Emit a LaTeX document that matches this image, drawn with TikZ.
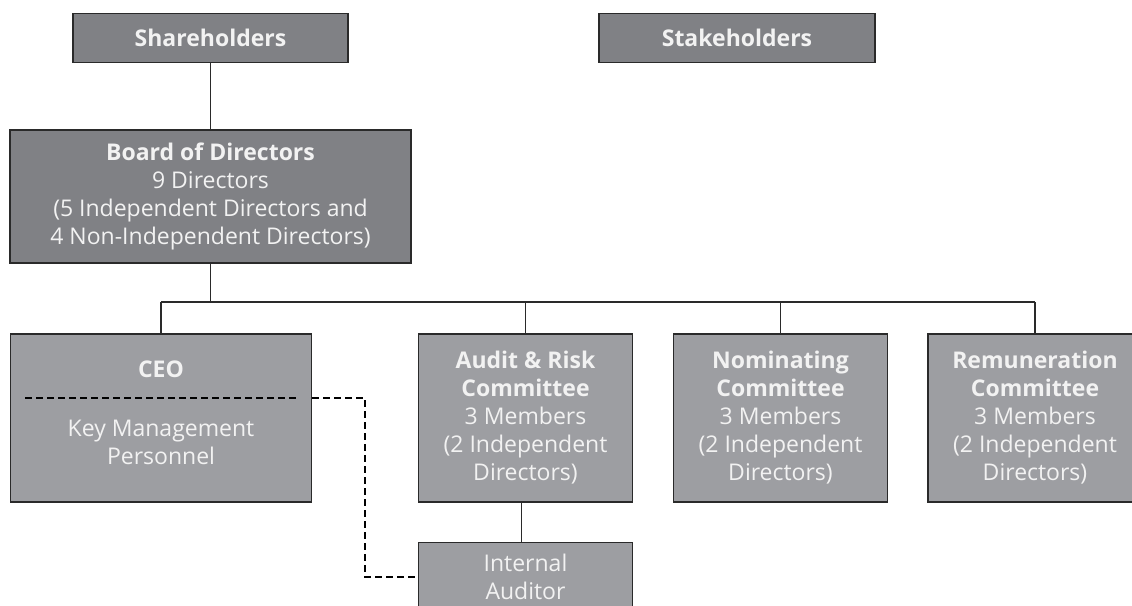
\documentclass[tikz,border=0pt]{standalone}
\usepackage{fontspec}
\setmainfont{Open Sans}
\definecolor{darkbox}{HTML}{808185}
\definecolor{lightbox}{HTML}{9D9EA2}
\definecolor{edge}{HTML}{2A2A2A}
\definecolor{txt}{HTML}{F2F2F2}
\tikzset{
  box/.style={draw=edge, line width=1.1pt, rectangle, inner sep=0pt},
  darkb/.style={box, fill=darkbox},
  lightb/.style={box, fill=lightbox},
  lbl/.style={text=txt, font=\fontsize{23}{28}\selectfont, align=center, inner sep=0pt},
  conn/.style={draw=edge, line width=1.1pt},
  dconn/.style={draw=black, line width=1.1pt, dash pattern=on 7pt off 4pt}
}
\begin{document}
\begin{tikzpicture}[x=1pt,y=-1pt]
\useasboundingbox (0,0) rectangle (1132,605);
\clip (0,0) rectangle (1132,605);
% top boxes
\node[darkb, minimum width=275pt, minimum height=49pt] (sh) at (210.5,38) {};
\node[lbl] (shl) at (sh.center) {\textbf{Shareholders}};
\node[darkb, minimum width=276pt, minimum height=49pt] (st) at (737,38) {};
\node[lbl] (stl) at (st.center) {\textbf{Stakeholders}};
% board
\node[darkb, minimum width=401pt, minimum height=133pt] (bd) at (210.5,196.5) {};
\node[lbl] (bdl) at (bd.center) {\textbf{Board of Directors}\\9 Directors\\(5 Independent Directors and\\4 Non-Independent Directors)};
% second row
\node[lightb, minimum width=301pt, minimum height=168pt] (ceo) at (161,418) {};
\node[lbl] (ceol) at (161,369) {\textbf{CEO}};
\node[lbl] (kmp) at (161,442) {Key Management\\Personnel};
\node[lightb, minimum width=214pt, minimum height=168pt] (ar) at (525.5,418) {};
\node[lbl] (arl) at (ar.center) {\textbf{Audit \& Risk}\\\textbf{Committee}\\3 Members\\(2 Independent\\Directors)};
\node[lightb, minimum width=214pt, minimum height=168pt] (nc) at (780.5,418) {};
\node[lbl] (ncl) at (nc.center) {\textbf{Nominating}\\\textbf{Committee}\\3 Members\\(2 Independent\\Directors)};
\node[lightb, minimum width=214pt, minimum height=168pt] (rc) at (1035,418) {};
\node[lbl] (rcl) at (rc.center) {\textbf{Remuneration}\\\textbf{Committee}\\3 Members\\(2 Independent\\Directors)};
% internal auditor
\node[lightb, minimum width=214pt, minimum height=90pt, anchor=north] (ia) at (525.5,542) {};
\node[lbl] (ial) at (525.5,577) {Internal\\Auditor};
% connectors
\coordinate (j) at (210.5,302);
\draw[conn] (sh.south) -- (bd.north);
\draw[conn] (bd.south) -- (j);
\draw[conn] (ceo.north |- j) -- (rc.north |- j);
\draw[conn] (ceo.north |- j) -- (ceo.north);
\draw[conn] (ar.north |- j) -- (ar.north);
\draw[conn] (nc.north |- j) -- (nc.north);
\draw[conn] (rc.north |- j) -- (rc.north);
\draw[conn] (521.5,502) -- (521.5,542);
% dashed
\coordinate (d1) at (25,398);
\coordinate (d2) at (297,398);
\draw[dconn] (d1) -- (d2);
\coordinate (d3) at (365,398);
\draw[dconn] (ceo.east |- d3) -- (d3) -- (365,577) -- (ia.west |- 0,577);
\end{tikzpicture}
\end{document}
